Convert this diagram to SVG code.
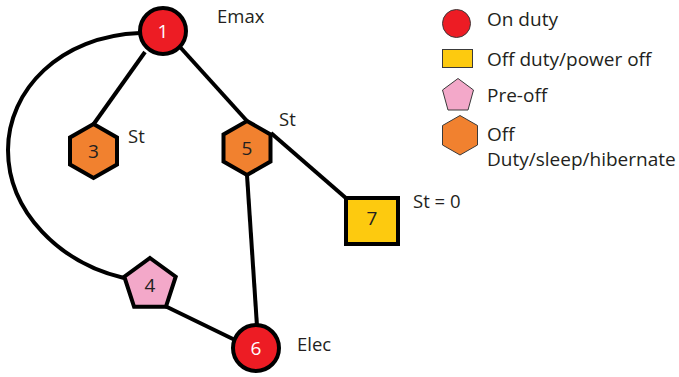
<svg xmlns="http://www.w3.org/2000/svg" width="679" height="377" viewBox="0 0 679 377">
<style>
.edge{fill:none;stroke:#000;stroke-width:4;stroke-linecap:butt}
.node{stroke:#000;stroke-width:4;stroke-linejoin:miter}
.leg{stroke:#3a3a3a;stroke-width:1}
.red{fill:#ED1C24}.org{fill:#F1812F}.yel{fill:#FDCA0F}.pnk{fill:#F3A8C9}
text{font-family:"Open Sans","Noto Sans","Liberation Sans",sans-serif;fill:#231F20}
.lbl{font-size:18.5px}
.lg{font-size:19px}
.num{font-size:19px;text-anchor:middle}
.wn{fill:#fff}
</style>
<rect width="679" height="377" fill="#fff"/>
<g id="connectors">
<path class="edge" d="M140,33 C60,36 8,90 8,150 C8,212 60,263 124,278"/>
<line class="edge" x1="145" y1="52" x2="93" y2="125"/>
<line class="edge" x1="180" y1="47" x2="247" y2="121"/>
<line class="edge" x1="271" y1="133" x2="347" y2="199"/>
<line class="edge" x1="247" y1="175" x2="257" y2="326"/>
<line class="edge" x1="165" y1="306" x2="235" y2="340"/>
</g>
<g id="node1"><circle class="node red" cx="163" cy="31" r="23"/><text class="num wn" x="163" y="38">1</text><text class="lbl" x="217" y="22.5">Emax</text></g>
<g id="node3"><polygon class="node org" points="93.5,124 117,137.5 117,164.5 93.5,178 70,164.5 70,137.5"/><text class="num" x="93.5" y="158">3</text><text class="lbl" x="128" y="143">St</text></g>
<g id="node5"><polygon class="node org" points="247,121 270.5,134.5 270.5,161.5 247,175 223.5,161.5 223.5,134.5"/><text class="num" x="247" y="155">5</text><text class="lbl" x="279" y="126">St</text></g>
<g id="node7"><rect class="node yel" x="346" y="198" width="52" height="46"/><text class="num" x="372" y="225">7</text><text class="lbl" x="413" y="208">St = 0</text></g>
<g id="node4"><polygon class="node pnk" points="150,258 175.7,276.7 165.9,306.8 134.1,306.8 124.3,276.7"/><text class="num" x="150" y="292">4</text></g>
<g id="node6"><circle class="node red" cx="256" cy="348" r="23"/><text class="num wn" x="256" y="355">6</text><text class="lbl" x="297" y="351">Elec</text></g>
<g id="legend">
<circle class="leg red" cx="456.5" cy="23.5" r="14"/>
<text class="lg" x="487" y="25.5">On duty</text>
<rect class="leg yel" x="442.5" y="49.5" width="30" height="18"/>
<text class="lg" x="487" y="66">Off duty/power off</text>
<polygon class="leg pnk" points="458,78.5 473.5,90 468,110 448,110 442.5,90"/>
<text class="lg" x="487" y="102">Pre-off</text>
<polygon class="leg org" points="460,115.5 477.5,125.5 477.5,145 460,155 442.5,145 442.5,125.5"/>
<text class="lg" x="487" y="140.5">Off</text>
<text class="lg" x="487" y="166">Duty/sleep/hibernate</text>
</g>
</svg>
